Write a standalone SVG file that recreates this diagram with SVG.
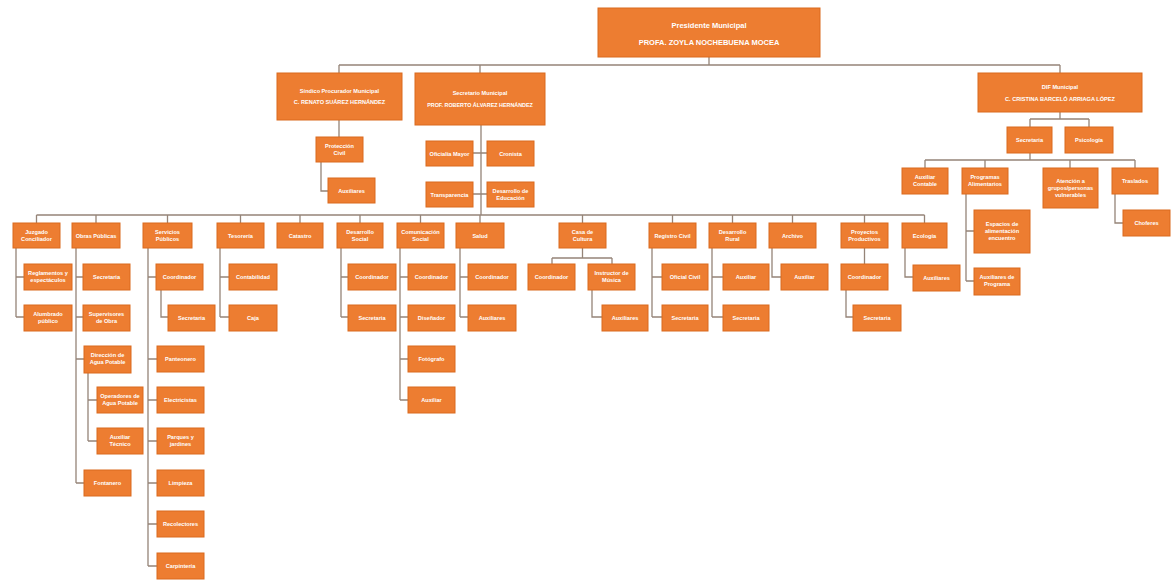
<svg xmlns="http://www.w3.org/2000/svg" width="1172" height="582" viewBox="0 0 1172 582">
<style>
rect{fill:#ED7D31;stroke:#DA6A1E;stroke-width:1}
text{font-family:"Liberation Sans",Arial,sans-serif;font-weight:bold;fill:#fff;text-anchor:middle;font-size:5.6px}
.big{font-size:7.5px}
.mid{font-size:5.4px}
#connectors path{fill:none;stroke:#958478;stroke-width:1.3}
</style>
<rect x="0" y="0" width="1172" height="582" style="fill:#fff;stroke:none"/>
<g id="connectors">
<path d="M709 57V65M339 65H1060M339 65V73M480 65V73M1060 65V73"/>
<path d="M339 120V137M321 162V191H328"/>
<path d="M481 125V215M473 153H487M473 194H487"/>
<path d="M1060 112V119M1030 119H1089M1030 119V127M1089 119V127"/>
<path d="M1030 153V160M925 160H1135M925 160V168M985 160V168M1070 160V168M1135 160V168"/>
<path d="M966 194V281M966 231H974M966 281H974M1115 194V223H1123"/>
<path d="M36.5 215H924.5M36.5 215V223M96 215V223M167.5 215V223M240.5 215V223M300 215V223M360 215V223M420.5 215V223M480 215V223M582.5 215V223M672.5 215V223M732.5 215V223M792.5 215V223M864.5 215V223M924.5 215V223"/>
<path d="M16 248V317M16 277H24M16 317H24"/>
<path d="M76 248V483M76 277H83M76 317H83M76 359H84M76 483H84M88 373V441M88 400H97M88 441H97"/>
<path d="M148 248V566M148 277H156M148 359H157M148 400H157M148 441H157M148 483H157M148 524H157M148 566H157M161 290V317H168"/>
<path d="M220 248V317M220 277H229M220 317H229"/>
<path d="M341 248V317M341 277H348M341 317H348"/>
<path d="M400 248V400M400 277H408M400 317H408M400 359H408M400 400H408"/>
<path d="M460 248V317M460 277H468M460 317H468"/>
<path d="M582.5 248V258M552 258H612M552 258V264M612 258V264M592 290V317H602"/>
<path d="M652 248V317M652 277H662M652 317H662"/>
<path d="M712 248V317M712 277H723M712 317H723"/>
<path d="M772 248V277H781"/>
<path d="M864.5 248V264M846 290V317H853"/>
<path d="M905 248V277H913"/>
</g>
<g id="presidente"><rect x="598" y="8" width="222" height="49"/><text class="big" x="709" y="28">Presidente Municipal</text><text class="big" x="709" y="45">PROFA. ZOYLA NOCHEBUENA MOCEA</text></g>
<g id="sindico"><rect x="277" y="73" width="125" height="47"/><text x="339.5" y="93">Síndico Procurador Municipal</text><text x="339.5" y="104">C. RENATO SUÁREZ HERNÁNDEZ</text></g>
<g id="secretario"><rect x="415" y="73" width="130" height="52"/><text x="480" y="95">Secretario Municipal</text><text class="mid" x="480" y="107">PROF. ROBERTO ÁLVAREZ HERNÁNDEZ</text></g>
<g id="dif"><rect x="978" y="73" width="164" height="39"/><text x="1060" y="89">DIF Municipal</text><text x="1060" y="101">C. CRISTINA BARCELÓ ARRIAGA LÓPEZ</text></g>
<g id="proteccion"><rect x="316" y="137" width="47" height="25"/><text x="339.5" y="148">Protección</text><text x="339.5" y="155">Civil</text></g>
<g id="auxpc"><rect x="328" y="178" width="47" height="25"/><text x="351.5" y="192.5">Auxiliares</text></g>
<g id="oficialia"><rect x="426" y="141" width="47" height="25"/><text x="449.5" y="155.5">Oficialía Mayor</text></g>
<g id="cronista"><rect x="487" y="141" width="47" height="25"/><text x="510.5" y="155.5">Cronista</text></g>
<g id="transparencia"><rect x="426" y="182" width="47" height="25"/><text x="449.5" y="196.5">Transparencia</text></g>
<g id="educacion"><rect x="487" y="182" width="47" height="25"/><text x="510.5" y="193">Desarrollo de</text><text x="510.5" y="200">Educación</text></g>
<g id="difsecretaria"><rect x="1007" y="127" width="45" height="26"/><text x="1029.5" y="142">Secretaria</text></g>
<g id="psicologia"><rect x="1065" y="127" width="48" height="26"/><text x="1089" y="142">Psicología</text></g>
<g id="auxcontable"><rect x="902" y="168" width="46" height="26"/><text x="925" y="179">Auxiliar</text><text x="925" y="186">Contable</text></g>
<g id="programas"><rect x="962" y="168" width="46" height="26"/><text x="985" y="179">Programas</text><text x="985" y="186">Alimentarios</text></g>
<g id="atencion"><rect x="1043" y="168" width="55" height="40"/><text x="1070.5" y="183">Atención a</text><text x="1070.5" y="190">grupos/personas</text><text x="1070.5" y="197">vulnerables</text></g>
<g id="traslados"><rect x="1112" y="168" width="46" height="26"/><text x="1135" y="183">Traslados</text></g>
<g id="espacios"><rect x="974" y="210" width="56" height="43"/><text x="1002" y="226">Espacios de</text><text x="1002" y="233">alimentación</text><text x="1002" y="240">encuentro</text></g>
<g id="auxprograma"><rect x="974" y="268" width="46" height="27"/><text x="997" y="279">Auxiliares de</text><text x="997" y="286">Programa</text></g>
<g id="chofer"><rect x="1123" y="210" width="47" height="26"/><text x="1146.5" y="225">Choferes</text></g>
<g id="juzgado"><rect x="13" y="223" width="47" height="25"/><text x="36.5" y="234">Juzgado</text><text x="36.5" y="241">Conciliador</text></g>
<g id="obras"><rect x="72" y="223" width="48" height="25"/><text x="96" y="237.5">Obras Públicas</text></g>
<g id="servicios"><rect x="143" y="223" width="49" height="25"/><text x="167.5" y="234">Servicios</text><text x="167.5" y="241">Públicos</text></g>
<g id="tesoreria"><rect x="217" y="223" width="47" height="25"/><text x="240.5" y="237.5">Tesorería</text></g>
<g id="catastro"><rect x="277" y="223" width="46" height="25"/><text x="300" y="237.5">Catastro</text></g>
<g id="dsocial"><rect x="337" y="223" width="46" height="25"/><text x="360" y="234">Desarrollo</text><text x="360" y="241">Social</text></g>
<g id="comunicacion"><rect x="397" y="223" width="47" height="25"/><text x="420.5" y="234">Comunicación</text><text x="420.5" y="241">Social</text></g>
<g id="salud"><rect x="456" y="223" width="48" height="25"/><text x="480" y="237.5">Salud</text></g>
<g id="cultura"><rect x="559" y="223" width="47" height="25"/><text x="582.5" y="234">Casa de</text><text x="582.5" y="241">Cultura</text></g>
<g id="registro"><rect x="649" y="223" width="47" height="25"/><text x="672.5" y="237.5">Registro Civil</text></g>
<g id="rural"><rect x="709" y="223" width="47" height="25"/><text x="732.5" y="234">Desarrollo</text><text x="732.5" y="241">Rural</text></g>
<g id="archivo"><rect x="769" y="223" width="47" height="25"/><text x="792.5" y="237.5">Archivo</text></g>
<g id="proyectos"><rect x="841" y="223" width="47" height="25"/><text x="864.5" y="234">Proyectos</text><text x="864.5" y="241">Productivos</text></g>
<g id="ecologia"><rect x="902" y="223" width="45" height="25"/><text x="924.5" y="237.5">Ecología</text></g>
<g id="reglamentos"><rect x="24" y="264" width="48" height="26"/><text x="48" y="275">Reglamentos y</text><text x="48" y="282">espectáculos</text></g>
<g id="alumbrado"><rect x="24" y="305" width="48" height="26"/><text x="48" y="316">Alumbrado</text><text x="48" y="323">público</text></g>
<g id="obsecretaria"><rect x="83" y="264" width="47" height="26"/><text x="106.5" y="279">Secretaria</text></g>
<g id="supervisores"><rect x="83" y="305" width="47" height="26"/><text x="106.5" y="316">Supervisores</text><text x="106.5" y="323">de Obra</text></g>
<g id="agua"><rect x="84" y="346" width="47" height="27"/><text x="107.5" y="357">Dirección de</text><text x="107.5" y="364">Agua Potable</text></g>
<g id="operadores"><rect x="97" y="387" width="46" height="26"/><text x="120" y="398">Operadores de</text><text x="120" y="405">Agua Potable</text></g>
<g id="auxtecnico"><rect x="97" y="428" width="46" height="26"/><text x="120" y="439">Auxiliar</text><text x="120" y="446">Técnico</text></g>
<g id="fontanero"><rect x="84" y="470" width="47" height="26"/><text x="107.5" y="485">Fontanero</text></g>
<g id="spcoord"><rect x="156" y="264" width="47" height="26"/><text x="179.5" y="279">Coordinador</text></g>
<g id="spsecretaria"><rect x="168" y="305" width="47" height="26"/><text x="191.5" y="320">Secretaria</text></g>
<g id="panteonero"><rect x="157" y="346" width="47" height="26"/><text x="180.5" y="361">Panteonero</text></g>
<g id="electricista"><rect x="157" y="387" width="47" height="26"/><text x="180.5" y="402">Electricistas</text></g>
<g id="parques"><rect x="157" y="428" width="47" height="26"/><text x="180.5" y="439">Parques y</text><text x="180.5" y="446">jardines</text></g>
<g id="limpieza"><rect x="157" y="470" width="47" height="26"/><text x="180.5" y="485">Limpieza</text></g>
<g id="recolectores"><rect x="157" y="511" width="47" height="26"/><text x="180.5" y="526">Recolectores</text></g>
<g id="carpinteria"><rect x="157" y="553" width="47" height="26"/><text x="180.5" y="568">Carpintería</text></g>
<g id="contabilidad"><rect x="229" y="264" width="48" height="26"/><text x="253" y="279">Contabilidad</text></g>
<g id="caja"><rect x="229" y="305" width="48" height="26"/><text x="253" y="320">Caja</text></g>
<g id="dscoord"><rect x="348" y="264" width="48" height="26"/><text x="372" y="279">Coordinador</text></g>
<g id="dssecretaria"><rect x="348" y="305" width="48" height="26"/><text x="372" y="320">Secretaria</text></g>
<g id="cscoord"><rect x="408" y="264" width="47" height="26"/><text x="431.5" y="279">Coordinador</text></g>
<g id="disenador"><rect x="408" y="305" width="47" height="26"/><text x="431.5" y="320">Diseñador</text></g>
<g id="fotografo"><rect x="408" y="346" width="47" height="26"/><text x="431.5" y="361">Fotógrafo</text></g>
<g id="csaux"><rect x="408" y="387" width="47" height="26"/><text x="431.5" y="402">Auxiliar</text></g>
<g id="scoord"><rect x="468" y="264" width="48" height="26"/><text x="492" y="279">Coordinador</text></g>
<g id="saux"><rect x="468" y="305" width="48" height="26"/><text x="492" y="320">Auxiliares</text></g>
<g id="cccoord"><rect x="528" y="264" width="47" height="26"/><text x="551.5" y="279">Coordinador</text></g>
<g id="instructor"><rect x="588" y="264" width="47" height="26"/><text x="611.5" y="275">Instructor de</text><text x="611.5" y="282">Música</text></g>
<g id="ccaux"><rect x="602" y="305" width="46" height="26"/><text x="625" y="320">Auxiliares</text></g>
<g id="oficial"><rect x="662" y="264" width="46" height="26"/><text x="685" y="279">Oficial Civil</text></g>
<g id="rcsecretaria"><rect x="662" y="305" width="46" height="26"/><text x="685" y="320">Secretaria</text></g>
<g id="draux"><rect x="723" y="264" width="46" height="26"/><text x="746" y="279">Auxiliar</text></g>
<g id="drsecretaria"><rect x="723" y="305" width="46" height="26"/><text x="746" y="320">Secretaria</text></g>
<g id="araux"><rect x="781" y="264" width="47" height="26"/><text x="804.5" y="279">Auxiliar</text></g>
<g id="ppcoord"><rect x="841" y="264" width="47" height="26"/><text x="864.5" y="279">Coordinador</text></g>
<g id="ppsecretaria"><rect x="853" y="305" width="48" height="26"/><text x="877" y="320">Secretaria</text></g>
<g id="ecaux"><rect x="913" y="265" width="47" height="26"/><text x="936.5" y="280">Auxiliares</text></g>
</svg>
